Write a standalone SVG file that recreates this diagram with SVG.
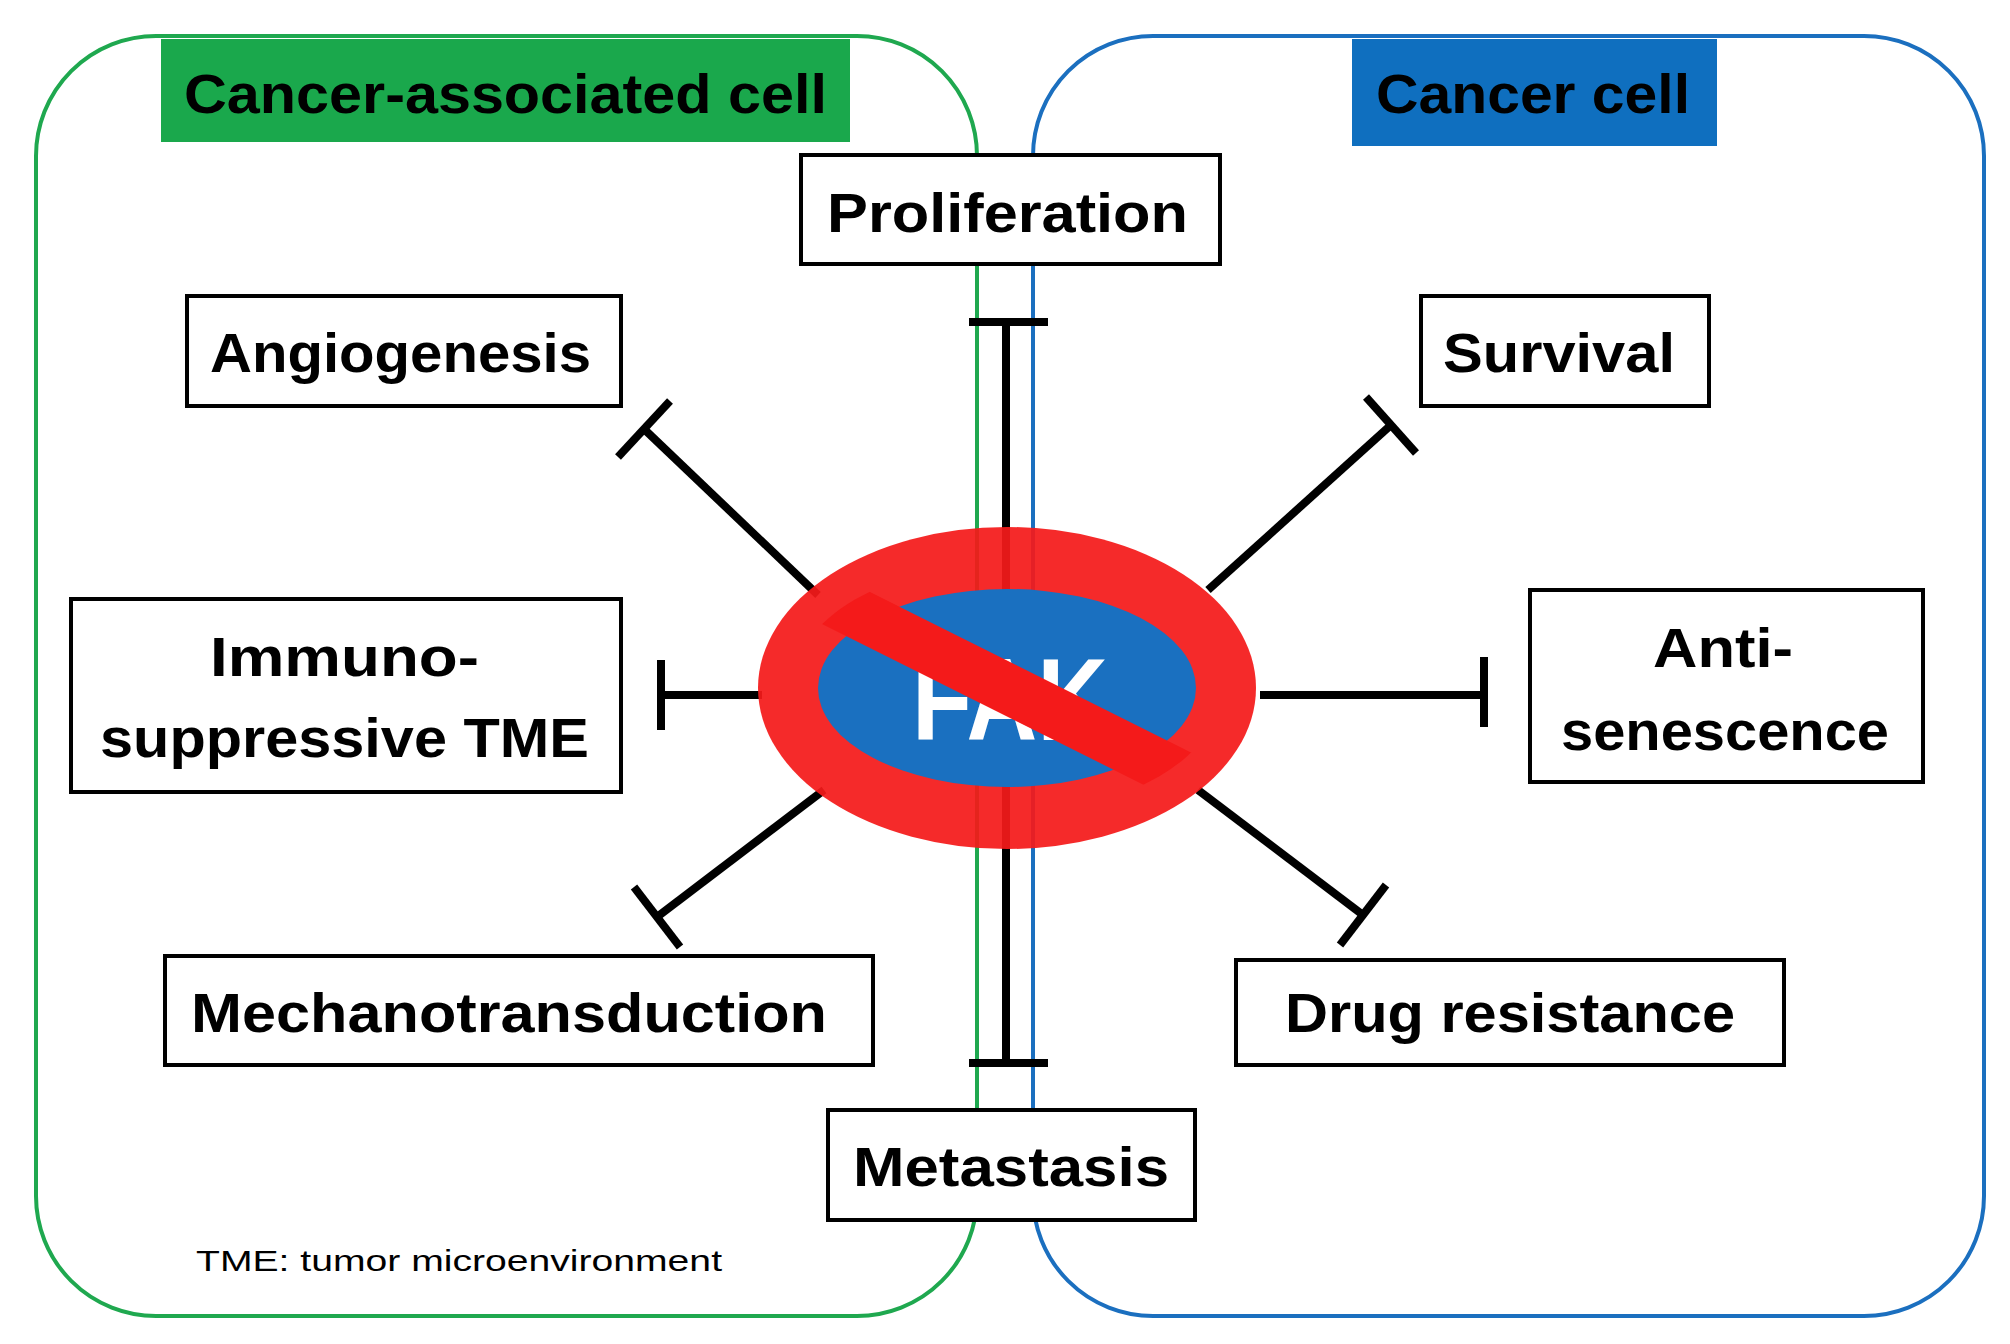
<svg xmlns="http://www.w3.org/2000/svg" width="2010" height="1344" viewBox="0 0 2010 1344">
<style>
.box{fill:#fff;stroke:#000;stroke-width:4}
.t{font-family:"Liberation Sans",Arial,sans-serif;font-weight:bold;font-size:56px;fill:#000}
.ln{stroke:#000;stroke-width:8;fill:none}
</style>
<rect width="2010" height="1344" fill="#fff"/>
<g id="cancer-associated-cell">
<rect x="36" y="36" width="941" height="1280" rx="120" fill="none" stroke="#1fa84f" stroke-width="4"/>
<rect x="161" y="39" width="689" height="103" fill="#1aa84c"/>
<text class="t" x="184" y="113" textLength="643" lengthAdjust="spacingAndGlyphs" fill="#0a1a10">Cancer-associated cell</text>
</g>
<g id="cancer-cell">
<rect x="1033" y="36" width="951" height="1280" rx="120" fill="none" stroke="#1b6fbf" stroke-width="4"/>
<rect x="1352" y="39" width="365" height="107" fill="#0f6fbf"/>
<text class="t" x="1376" y="113" textLength="314" lengthAdjust="spacingAndGlyphs" fill="#061626">Cancer cell</text>
</g>
<g id="connectors">
<line class="ln" x1="1006" y1="322" x2="1006" y2="1063"/>
<line class="ln" x1="969" y1="322" x2="1048" y2="322"/>
<line class="ln" x1="969" y1="1063" x2="1048" y2="1063"/>
<line class="ln" x1="818" y1="595" x2="644" y2="429"/>
<line class="ln" x1="670" y1="401" x2="618" y2="457"/>
<line class="ln" x1="1208" y1="590" x2="1391" y2="425"/>
<line class="ln" x1="1416" y1="453" x2="1366" y2="397"/>
<line class="ln" x1="762" y1="695" x2="661" y2="695"/>
<line class="ln" x1="661" y1="660" x2="661" y2="730"/>
<line class="ln" x1="1260" y1="695" x2="1484" y2="695"/>
<line class="ln" x1="1484" y1="657" x2="1484" y2="727"/>
<line class="ln" x1="824" y1="790" x2="657" y2="917"/>
<line class="ln" x1="680" y1="947" x2="634" y2="887"/>
<line class="ln" x1="1198" y1="790" x2="1363" y2="915"/>
<line class="ln" x1="1340" y1="945" x2="1386" y2="885"/>
</g>
<g id="fak">
<defs><clipPath id="c"><ellipse cx="1007" cy="688" rx="215" ry="125"/></clipPath></defs>
<ellipse cx="1007" cy="688" rx="249" ry="161" fill="#f41a1a" fill-opacity="0.93"/>
<ellipse cx="1007" cy="688" rx="189" ry="99" fill="#1a70c0"/>
<text x="912" y="740" font-family="'Liberation Sans',Arial,sans-serif" font-weight="bold" font-size="116" fill="#fff" textLength="196" lengthAdjust="spacingAndGlyphs">FAK</text>
<line x1="790" y1="580" x2="1220" y2="795" stroke="#f41a1a" stroke-width="50" clip-path="url(#c)"/>
</g>
<g id="proliferation"><rect class="box" x="801" y="155" width="419" height="109"/><text class="t" x="827" y="232" textLength="361" lengthAdjust="spacingAndGlyphs">Proliferation</text></g>
<g id="angiogenesis"><rect class="box" x="187" y="296" width="434" height="110"/><text class="t" x="210" y="372" textLength="381" lengthAdjust="spacingAndGlyphs">Angiogenesis</text></g>
<g id="survival"><rect class="box" x="1421" y="296" width="288" height="110"/><text class="t" x="1443" y="372" textLength="232" lengthAdjust="spacingAndGlyphs">Survival</text></g>
<g id="immunosuppressive"><rect class="box" x="71" y="599" width="550" height="193"/><text class="t" x="210" y="676" textLength="269" lengthAdjust="spacingAndGlyphs">Immuno-</text><text class="t" x="100" y="757" textLength="489" lengthAdjust="spacingAndGlyphs">suppressive TME</text></g>
<g id="anti-senescence"><rect class="box" x="1530" y="590" width="393" height="192"/><text class="t" x="1653" y="667" textLength="140" lengthAdjust="spacingAndGlyphs">Anti-</text><text class="t" x="1561" y="750" textLength="328" lengthAdjust="spacingAndGlyphs">senescence</text></g>
<g id="mechanotransduction"><rect class="box" x="165" y="956" width="708" height="109"/><text class="t" x="191" y="1032" textLength="636" lengthAdjust="spacingAndGlyphs">Mechanotransduction</text></g>
<g id="drug-resistance"><rect class="box" x="1236" y="960" width="548" height="105"/><text class="t" x="1285" y="1032" textLength="450" lengthAdjust="spacingAndGlyphs">Drug resistance</text></g>
<g id="metastasis"><rect class="box" x="828" y="1110" width="367" height="110"/><text class="t" x="853" y="1186" textLength="316" lengthAdjust="spacingAndGlyphs">Metastasis</text></g>
<text x="196" y="1271" font-family="'Liberation Sans',Arial,sans-serif" font-size="30" fill="#000" textLength="526" lengthAdjust="spacingAndGlyphs">TME: tumor microenvironment</text>
</svg>
